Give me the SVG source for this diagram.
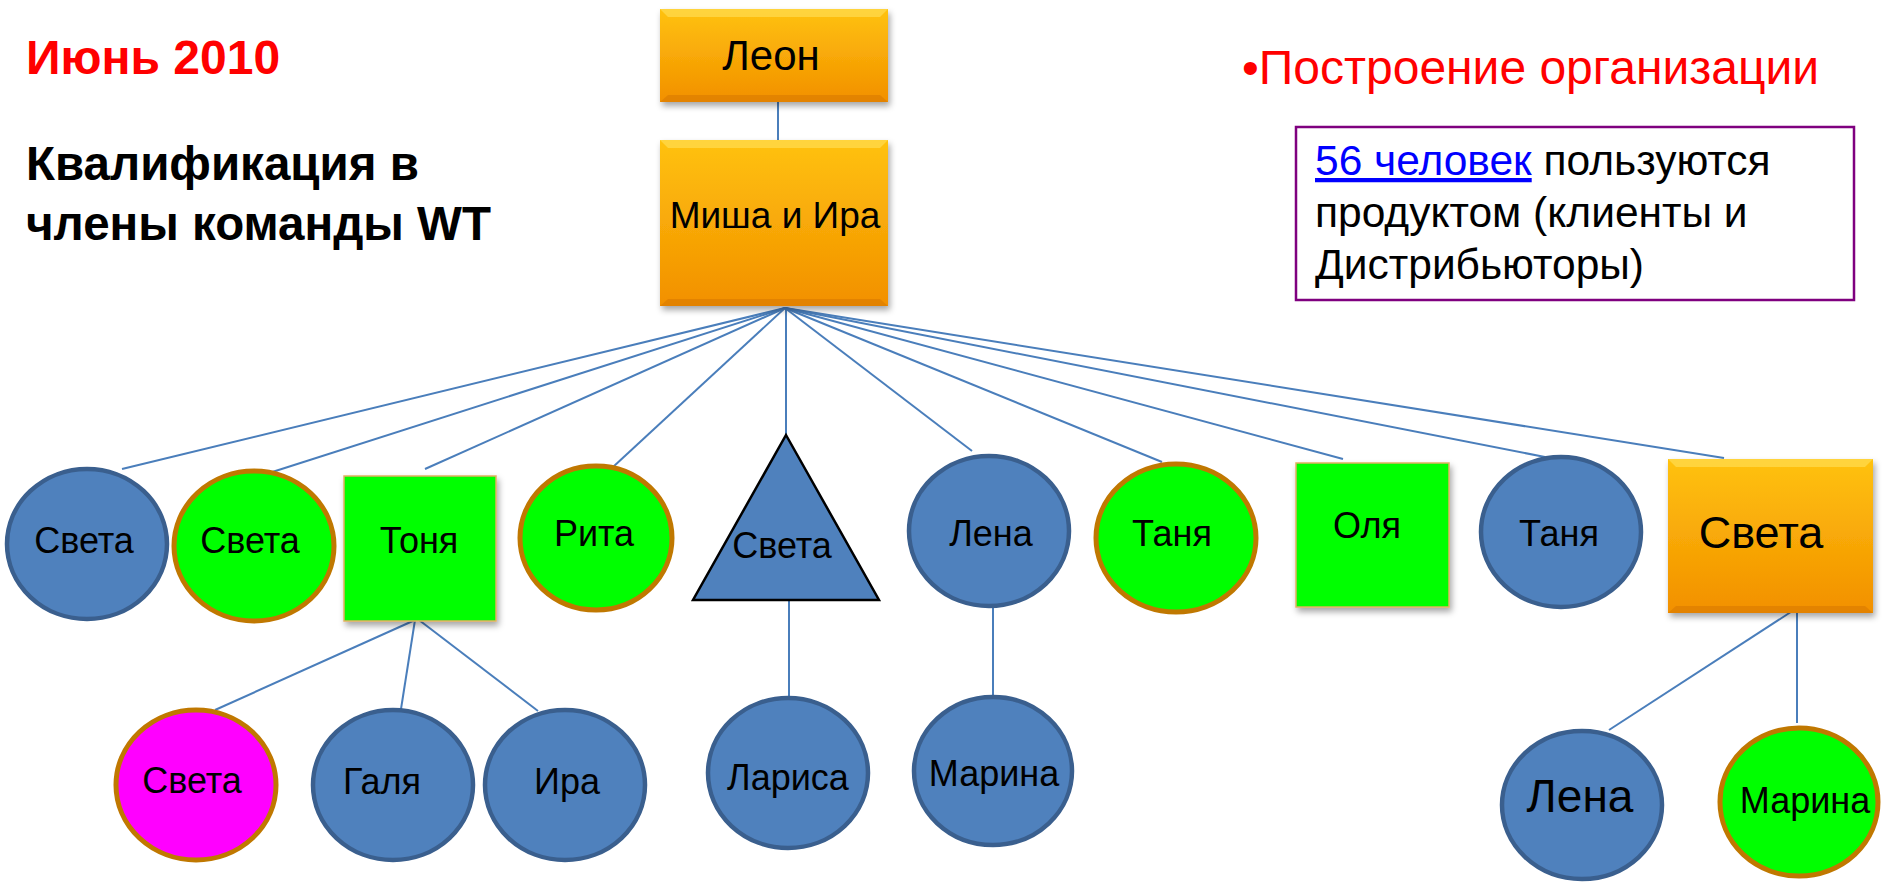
<svg xmlns="http://www.w3.org/2000/svg" width="1883" height="886" viewBox="0 0 1883 886">
<style>
text{font-family:"Liberation Sans",Arial,sans-serif;fill:#000}
.lbl{font-size:36px;text-anchor:middle}
.blue{fill:#4F81BD;stroke:#3A5F8E;stroke-width:4.5}
.green{fill:#00FF00;stroke:#C07800;stroke-width:5}
.mag{fill:#FF00FF;stroke:#C07800;stroke-width:5}
.sq{fill:#00FF00;stroke:#E2B060;stroke-width:1.5;filter:url(#sh)}
.tri{fill:#4F81BD;stroke:#000;stroke-width:2.5;stroke-linejoin:miter}
.conn line{stroke:#4A7EBB;stroke-width:2}
</style>
<defs>
<linearGradient id="og" x1="0" y1="0" x2="0" y2="1">
<stop offset="0" stop-color="#FFC20E"/>
<stop offset="1" stop-color="#F29000"/>
</linearGradient>
<filter id="sh" x="-10%" y="-10%" width="130%" height="130%">
<feDropShadow dx="2" dy="4" stdDeviation="3" flood-color="#000" flood-opacity="0.35"/>
</filter>
</defs>
<rect width="1883" height="886" fill="#fff"/>

<g id="title">
<text x="26" y="74" style="font-size:48px;font-weight:bold;fill:#FF0000">Июнь 2010</text>
<text x="26" y="180" style="font-size:47.5px;font-weight:bold">Квалификация в</text>
<text x="26" y="240" style="font-size:47.5px;font-weight:bold">члены команды WT</text>
<text x="1242" y="84" style="font-size:48px;fill:#FF0000">•Построение организации</text>
</g>

<g id="info">
<rect x="1296" y="127" width="558" height="173" fill="#fff" stroke="#7F007F" stroke-width="2.5"/>
<text x="1315" y="175" style="font-size:42.5px"><tspan style="fill:#0000FF;text-decoration:underline">56 человек</tspan> пользуются</text>
<text x="1315" y="227" style="font-size:42.5px">продуктом (клиенты и</text>
<text x="1315" y="279" style="font-size:42.5px">Дистрибьюторы)</text>
</g>

<g class="conn" id="connectors">
<line x1="778" y1="102" x2="778" y2="140"/>
<line x1="785" y1="308" x2="122" y2="469"/>
<line x1="785" y1="308" x2="266" y2="474"/>
<line x1="785" y1="308" x2="425" y2="469"/>
<line x1="785" y1="308" x2="613" y2="467"/>
<line x1="786" y1="308" x2="786" y2="435"/>
<line x1="785" y1="308" x2="972" y2="451"/>
<line x1="785" y1="308" x2="1162" y2="462"/>
<line x1="785" y1="308" x2="1343" y2="459"/>
<line x1="785" y1="308" x2="1545" y2="457"/>
<line x1="785" y1="308" x2="1724" y2="458"/>
<line x1="415" y1="620" x2="215" y2="710"/>
<line x1="415" y1="620" x2="401" y2="709"/>
<line x1="419" y1="620" x2="538" y2="711"/>
<line x1="789" y1="600" x2="789" y2="697"/>
<line x1="993" y1="607" x2="993" y2="697"/>
<line x1="1797" y1="608" x2="1609" y2="730"/>
<line x1="1797" y1="608" x2="1797" y2="723"/>
</g>

<g id="leon">
<rect x="660" y="9" width="228" height="93" fill="url(#og)" filter="url(#sh)"/>
<polygon points="660,9 888,9 880,17 668,17" fill="#FFD84A" opacity="0.8"/>
<polygon points="660,102 888,102 880,95 668,95" fill="#D97A00" opacity="0.6"/>
<text class="lbl" x="771" y="70" style="font-size:42px">Леон</text>
</g>

<g id="misha">
<rect x="660" y="140" width="228" height="166" fill="url(#og)" filter="url(#sh)"/>
<polygon points="660,140 888,140 880,148 668,148" fill="#FFD84A" opacity="0.8"/>
<polygon points="660,306 888,306 880,299 668,299" fill="#D97A00" opacity="0.6"/>
<text class="lbl" x="775" y="228" style="font-size:37px">Миша и Ира</text>
</g>

<g id="n1"><ellipse class="blue" cx="87" cy="544" rx="80" ry="75"/><text class="lbl" x="84" y="553">Света</text></g>
<g id="n2"><ellipse class="green" cx="254" cy="546" rx="80" ry="75"/><text class="lbl" x="250" y="553">Света</text></g>
<g id="n3"><rect class="sq" x="344" y="476" width="152" height="145"/><text class="lbl" x="419" y="553">Тоня</text></g>
<g id="n4"><ellipse class="green" cx="596" cy="538" rx="76" ry="72"/><text class="lbl" x="594" y="546">Рита</text></g>
<g id="n5"><polygon class="tri" points="786,435 879,600 693,600"/><text class="lbl" x="782" y="558">Света</text></g>
<g id="n6"><ellipse class="blue" cx="989" cy="531" rx="80" ry="75"/><text class="lbl" x="991" y="546">Лена</text></g>
<g id="n7"><ellipse class="green" cx="1176" cy="538" rx="80" ry="74"/><text class="lbl" x="1172" y="546">Таня</text></g>
<g id="n8"><rect class="sq" x="1296" y="463" width="153" height="144"/><text class="lbl" x="1367" y="538">Оля</text></g>
<g id="n9"><ellipse class="blue" cx="1561" cy="532" rx="80" ry="75"/><text class="lbl" x="1559" y="546">Таня</text></g>
<g id="n10">
<rect x="1668" y="459" width="205" height="154" fill="url(#og)" filter="url(#sh)"/>
<polygon points="1668,459 1873,459 1865,467 1676,467" fill="#FFD84A" opacity="0.8"/>
<polygon points="1668,613 1873,613 1865,606 1676,606" fill="#D97A00" opacity="0.6"/>
<text class="lbl" x="1761" y="548" style="font-size:45px">Света</text>
</g>

<g id="n11"><ellipse class="mag" cx="196" cy="785" rx="80" ry="75"/><text class="lbl" x="192" y="793">Света</text></g>
<g id="n12"><ellipse class="blue" cx="393" cy="785" rx="80" ry="75"/><text class="lbl" x="382" y="794">Галя</text></g>
<g id="n13"><ellipse class="blue" cx="565" cy="785" rx="80" ry="75"/><text class="lbl" x="567" y="794">Ира</text></g>
<g id="n14"><ellipse class="blue" cx="788" cy="773" rx="80" ry="75"/><text class="lbl" x="788" y="790">Лариса</text></g>
<g id="n15"><ellipse class="blue" cx="993" cy="771" rx="79" ry="74"/><text class="lbl" x="994" y="786">Марина</text></g>
<g id="n16"><ellipse class="blue" cx="1582" cy="805" rx="80" ry="74"/><text class="lbl" x="1580" y="812" style="font-size:46px">Лена</text></g>
<g id="n17"><ellipse class="green" cx="1799" cy="802" rx="79" ry="74"/><text class="lbl" x="1805" y="813">Марина</text></g>
</svg>
